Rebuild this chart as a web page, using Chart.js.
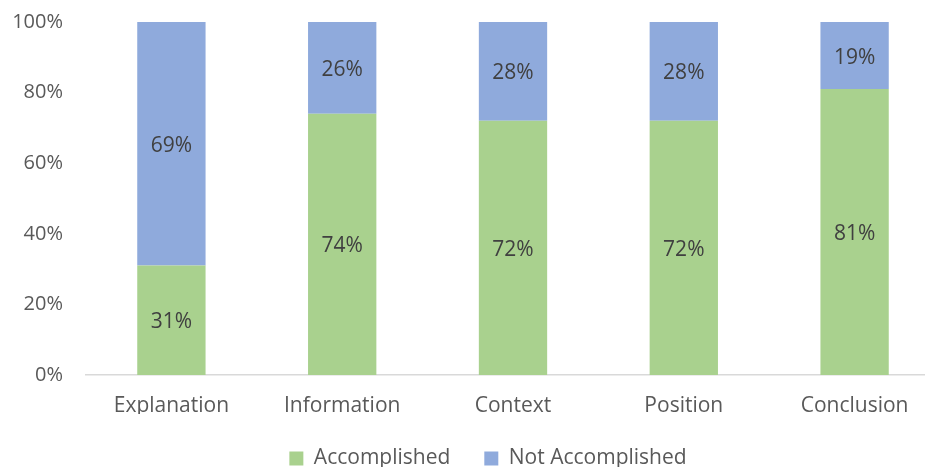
<!DOCTYPE html>
<html>
<head>
<meta charset="utf-8">
<script src="https://cdn.jsdelivr.net/npm/chart.js@4"></script>
<style>
  html, body { margin: 0; padding: 0; background: #fff; overflow: hidden; }
  #wrap { width: 940px; height: 479px; }
</style>
</head>
<body>
<div id="wrap"><canvas id="chart"></canvas></div>
<script>
var categories = ['Explanation', 'Information', 'Context', 'Position', 'Conclusion'];
var accomplished = [31, 74, 72, 72, 81];
var not_accomplished = [69, 26, 28, 28, 19];
var y_ticks = [0, 20, 40, 60, 80, 100];

var text_color = '#595959';
var font_family = "Open Sans, Liberation Sans, sans-serif";

// write the percentage in the middle of every segment
var segment_labels = {
  id: 'segment_labels',
  afterLayout: function(chart) {
    // legend sits a bit right of the canvas centre in the original
    chart.legend.left += 18;
    chart.legend.right += 18;
  },
  afterDatasetsDraw: function(chart) {
    var ctx = chart.ctx;
    ctx.save();
    ctx.fillStyle = '#404040';
    ctx.font = '21px ' + font_family;
    ctx.textAlign = 'center';
    ctx.textBaseline = 'middle';
    chart.data.datasets.forEach(function(ds, i) {
      chart.getDatasetMeta(i).data.forEach(function(bar, j) {
        var mid = (bar.y + bar.base) / 2 + 2;
        ctx.fillText(ds.data[j] + '%', bar.x, mid);
      });
    });
    ctx.restore();
  }
};

var chart_ctx = document.getElementById('chart').getContext('2d');
new Chart(chart_ctx, {
  type: 'bar',
  data: {
    labels: categories,
    datasets: [
      { label: 'Accomplished', data: accomplished, backgroundColor: '#A9D18E', barPercentage: 0.8, categoryPercentage: 0.5 },
      { label: 'Not Accomplished', data: not_accomplished, backgroundColor: '#8FAADC', barPercentage: 0.8, categoryPercentage: 0.5 }
    ]
  },
  options: {
    responsive: true,
    maintainAspectRatio: false,
    animation: false,
    layout: { padding: { top: 22, right: 0, left: 0, bottom: 0 } },
    plugins: {
      tooltip: { enabled: false },
      legend: {
        position: 'bottom',
        labels: { color: text_color, font: { family: font_family, size: 21 }, boxWidth: 14, boxHeight: 14, padding: 34 }
      }
    },
    scales: {
      x: {
        stacked: true,
        afterFit: function(axis) { axis.height = 39; },
        grid: { display: false, drawTicks: false },
        border: { color: '#D9D9D9', width: 1.5 },
        ticks: { color: text_color, font: { family: font_family, size: 21 }, padding: 18 }
      },
      y: {
        stacked: true, min: 0, max: 100,
        afterFit: function(axis) { axis.width = 86; },
        afterBuildTicks: function(axis) { axis.ticks = y_ticks.map(function(v) { return { value: v }; }); },
        grid: { display: false, drawTicks: true, tickLength: 23 },
        border: { display: false },
        ticks: { color: text_color, font: { family: font_family, size: 20 }, padding: 0, callback: function(v) { return v + '%'; } }
      }
    }
  },
  plugins: [segment_labels]
});
</script>
</body>
</html>
